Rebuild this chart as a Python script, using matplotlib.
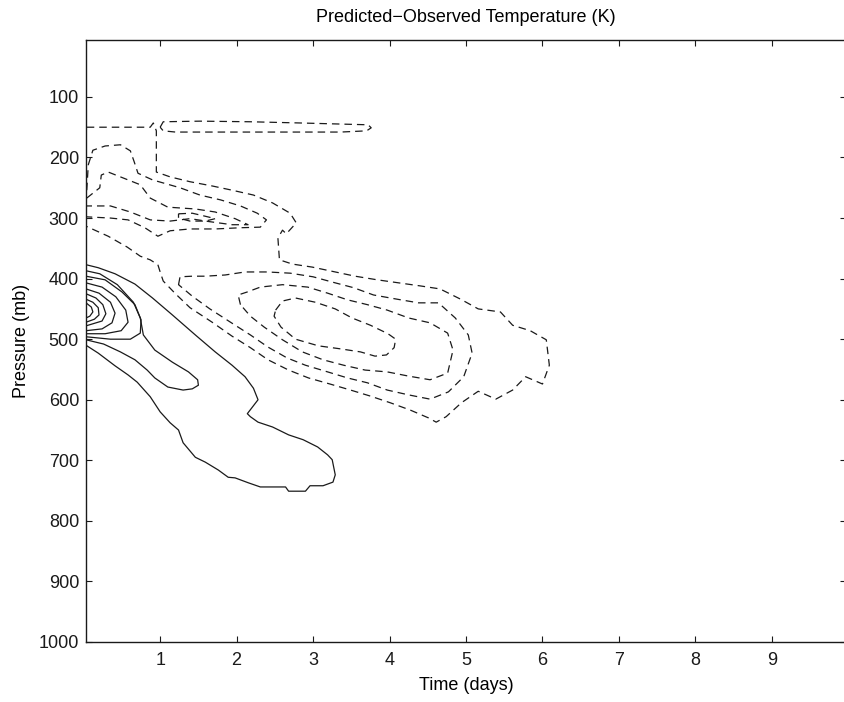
import numpy as np
import matplotlib
matplotlib.use("Agg")
import matplotlib.pyplot as plt

# ---- positive (solid) contours: time (days), pressure (mb) ----
s1_t = [0.03, 0.19, 0.41, 0.67, 0.90, 1.16, 1.46, 1.72, 1.94, 2.11, 2.22, 2.28, 2.14, 2.18, 2.28, 2.47,
        2.68, 2.87, 3.06, 3.19, 3.25, 3.29, 3.26, 3.13, 2.96, 2.90, 2.68, 2.64, 2.31, 2.15, 1.98, 1.89,
        1.76, 1.59, 1.46, 1.30, 1.24, 1.13, 1.00, 0.87, 0.70, 0.58, 0.41, 0.19, 0.03]
s1_p = [377, 382, 392, 409, 432, 460, 493, 521, 543, 562, 581, 600, 623, 628, 637, 645,
        658, 666, 678, 691, 699, 724, 736, 742, 742, 751, 751, 744, 744, 737, 729, 728,
        716, 703, 695, 671, 650, 638, 620, 595, 571, 559, 544, 523, 510]

s2_t = [0.03, 0.21, 0.44, 0.65, 0.74, 0.78, 0.93, 1.16, 1.37, 1.49, 1.50, 1.42, 1.30, 1.10, 0.93,
        0.83, 0.67, 0.48, 0.26, 0.03]
s2_p = [387, 392, 410, 439, 465, 493, 518, 538, 554, 567, 576, 582, 584, 579, 564,
        551, 534, 521, 508, 501]

s3_t = [0.03, 0.28, 0.50, 0.67, 0.75, 0.74, 0.61, 0.35, 0.03]
s3_p = [396, 402, 422, 443, 468, 490, 500, 500, 496]

s4_t = [0.03, 0.24, 0.42, 0.55, 0.58, 0.49, 0.28, 0.03]
s4_p = [407, 414, 430, 452, 472, 486, 491, 491]

s5_t = [0.03, 0.20, 0.35, 0.41, 0.37, 0.24, 0.03]
s5_p = [417, 424, 439, 457, 473, 483, 486]

s6_t = [0.03, 0.16, 0.25, 0.29, 0.24, 0.03]
s6_p = [425, 432, 443, 458, 470, 478]

s7_t = [0.03, 0.12, 0.19, 0.20, 0.14, 0.03]
s7_p = [434, 439, 448, 460, 467, 472]

s8_t = [0.03, 0.10, 0.12, 0.08, 0.03]
s8_p = [440, 447, 455, 462, 465]

# ---- negative (dashed) contours ----
top_t = [1.00, 1.04, 1.52, 2.18, 2.83, 3.42, 3.72, 3.76, 3.70, 3.36, 2.83, 2.18, 1.52, 1.20, 1.04, 1.00]
top_p = [150, 141, 140, 141, 143, 145, 146, 151, 156, 158, 158, 158, 158, 158, 156, 150]

a_t = [0.04, 0.87, 0.91, 0.95, 0.95, 1.13, 1.39, 1.68, 1.94, 2.22, 2.47, 2.70, 2.78, 2.65, 2.60, 2.54,
       2.56, 2.73, 2.99, 3.29, 3.55, 3.84, 4.12, 4.40, 4.66, 4.93, 5.16, 5.45, 5.61, 5.84, 6.05, 6.09,
       6.00, 5.78, 5.61, 5.39, 5.16, 4.94, 4.74, 4.61, 4.51, 4.27, 4.01, 3.75, 3.49, 3.22, 2.94, 2.68,
       2.41, 2.18, 1.94, 1.68, 1.39, 1.20, 1.04, 1.00, 0.97, 0.87, 0.74, 0.57, 0.32, 0.04]
a_p = [150, 150, 143, 156, 224, 232, 240, 247, 254, 262, 275, 292, 308, 326, 320, 333,
       369, 376, 381, 389, 396, 402, 407, 412, 417, 434, 450, 455, 477, 486, 501, 543,
       574, 562, 584, 599, 586, 605, 628, 637, 630, 617, 605, 594, 584, 574, 564, 551,
       534, 514, 495, 472, 448, 425, 404, 389, 377, 369, 363, 348, 330, 314]

b_t = [1.24, 1.26, 1.42, 1.59, 1.85, 2.11, 2.40, 2.70, 3.00, 3.26, 3.53, 3.79, 4.10, 4.38, 4.64, 4.86,
       5.03, 5.08, 4.97, 4.77, 4.53, 4.25, 3.97, 3.71, 3.45, 3.19, 2.90, 2.66, 2.41, 2.18, 1.92, 1.65,
       1.42, 1.24]
b_p = [410, 397, 396, 396, 394, 389, 389, 391, 397, 406, 415, 427, 434, 440, 440, 465,
       493, 523, 562, 587, 599, 592, 584, 572, 564, 554, 543, 531, 513, 493, 472, 450,
       429, 410]

c_t = [2.05, 2.02, 2.14, 2.31, 2.60, 2.93, 3.19, 3.45, 3.71, 3.97, 4.25, 4.53, 4.76, 4.83, 4.76, 4.53,
       4.25, 3.97, 3.68, 3.40, 3.13, 2.86, 2.60, 2.36, 2.18, 2.05]
c_p = [443, 427, 422, 414, 410, 414, 424, 435, 443, 452, 465, 473, 490, 518, 556, 567,
       561, 554, 551, 543, 534, 521, 501, 480, 462, 443]

d_t = [2.51, 2.60, 2.77, 3.03, 3.29, 3.51, 3.75, 3.98, 4.08, 4.06, 3.96, 3.81, 3.62, 3.36, 3.07, 2.77,
       2.58, 2.49, 2.51]
d_p = [452, 437, 432, 439, 450, 465, 477, 491, 500, 514, 526, 528, 521, 516, 511, 500,
       480, 462, 452]

e1_t = [0.04, 0.06, 0.12, 0.28, 0.48, 0.61, 0.66, 0.71, 0.90, 1.26, 1.52, 1.79, 2.05, 2.27, 2.39, 2.31,
        2.05, 1.72, 1.39, 1.13, 0.97, 0.80, 0.58, 0.35, 0.04]
e1_p = [254, 212, 188, 181, 179, 189, 207, 226, 237, 250, 262, 270, 280, 292, 303, 315,
        316, 318, 318, 321, 330, 316, 303, 300, 298]

e2_t = [0.04, 0.21, 0.23, 0.32, 0.52, 0.74, 0.87, 1.10, 1.46, 1.72, 1.98, 2.15, 1.94, 1.65, 1.39, 1.13,
        0.87, 0.61, 0.35, 0.04]
e2_p = [267, 250, 229, 224, 234, 245, 267, 282, 285, 290, 301, 311, 311, 306, 301, 305,
        303, 290, 280, 280]

e3_t = [1.24, 1.42, 1.59, 1.72, 1.59, 1.39, 1.24, 1.24]
e3_p = [293, 292, 297, 301, 305, 305, 300, 293]

solid = [(s1_t, s1_p), (s2_t, s2_p), (s3_t, s3_p), (s4_t, s4_p),
         (s5_t, s5_p), (s6_t, s6_p), (s7_t, s7_p), (s8_t, s8_p)]
dashed = [(top_t, top_p), (a_t, a_p), (b_t, b_p), (c_t, c_p), (d_t, d_p),
          (e1_t, e1_p), (e2_t, e2_p), (e3_t, e3_p)]

x_ticks = [1, 2, 3, 4, 5, 6, 7, 8, 9]
y_ticks = [100, 200, 300, 400, 500, 600, 700, 800, 900, 1000]

plt.rcParams["font.family"] = ["Liberation Sans", "DejaVu Sans"]

fig = plt.figure(figsize=(8.44, 7.02), dpi=100)
ax = fig.add_axes([86 / 844, 60 / 702, 760 / 844, 602 / 702])

line_col = "#1a1a1a"
for t, p in solid:
    ax.plot(t, p, color=line_col, linewidth=0.9)
for t, p in dashed:
    ax.plot(t, p, color=line_col, linewidth=0.9, linestyle=(0, (6, 4)))

ax.set_xlim(0.03, 9.97)
ax.set_ylim(1000, 6)
ax.set_xticks(x_ticks)
ax.set_yticks(y_ticks)
ax.tick_params(direction="in", top=True, right=True, length=4, width=0.8,
               labelsize=13, colors="#1a1a1a")
ax.tick_params(axis="x", pad=7)
ax.tick_params(axis="y", pad=5)
for sp in ax.spines.values():
    sp.set_linewidth(1.0)
    sp.set_color("#1a1a1a")

ax.set_xlabel("Time (days)", fontsize=13, labelpad=6)
ax.set_ylabel("Pressure (mb)", fontsize=13, labelpad=6)
ax.set_title("Predicted\u2212Observed Temperature (K)", fontsize=13, pad=13)

fig.savefig("out.png", dpi=100)
